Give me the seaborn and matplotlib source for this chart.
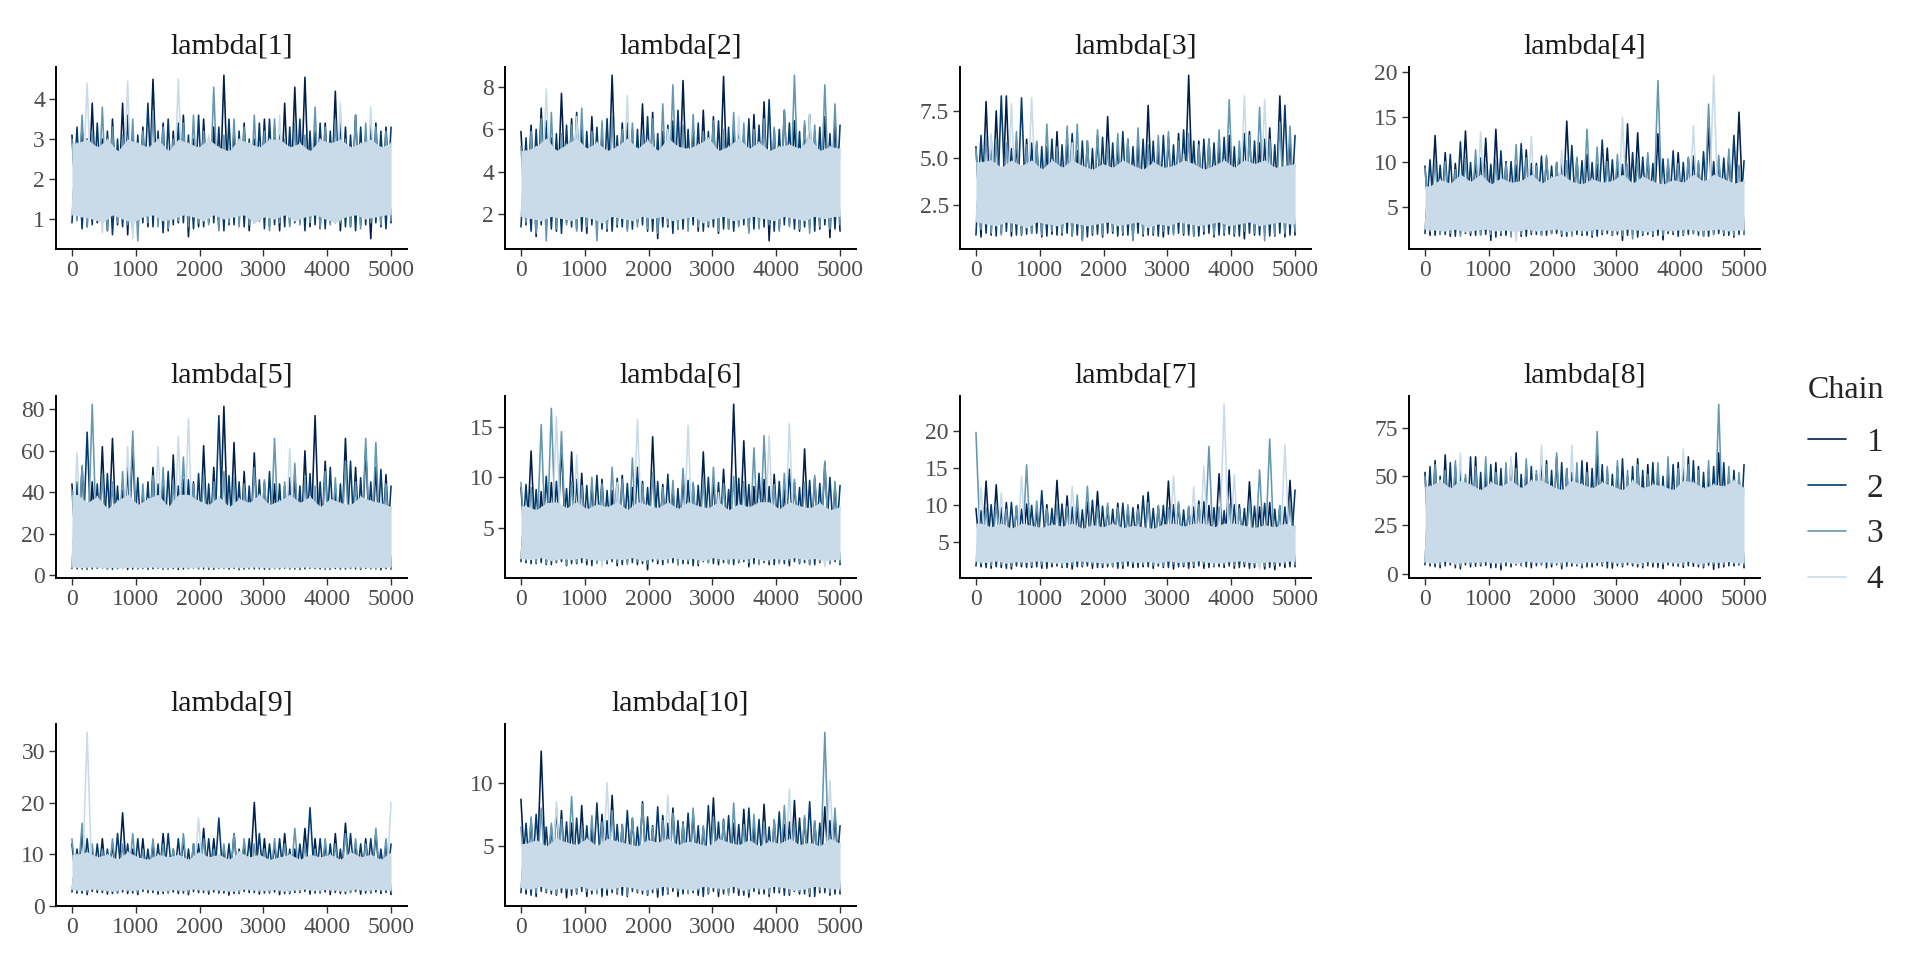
import numpy as np
import pandas as pd
import matplotlib
matplotlib.use("Agg")
import matplotlib.pyplot as plt
from matplotlib.lines import Line2D
import seaborn as sns

# ---------------- data ----------------
params = ["lambda[1]", "lambda[2]", "lambda[3]", "lambda[4]", "lambda[5]",
          "lambda[6]", "lambda[7]", "lambda[8]", "lambda[9]", "lambda[10]"]
chains = ["1", "2", "3", "4"]
n_iter = 5000
x_ticks = [0, 1000, 2000, 3000, 4000, 5000]
y_ticks = [[1, 2, 3, 4], [2, 4, 6, 8], [2.5, 5.0, 7.5], [5, 10, 15, 20], [0, 20, 40, 60, 80],
           [5, 10, 15], [5, 10, 15, 20], [0, 25, 50, 75], [0, 10, 20, 30], [5, 10]]
y_tick_labels = [["1", "2", "3", "4"], ["2", "4", "6", "8"], ["2.5", "5.0", "7.5"],
                 ["5", "10", "15", "20"], ["0", "20", "40", "60", "80"], ["5", "10", "15"],
                 ["5", "10", "15", "20"], ["0", "25", "50", "75"], ["0", "10", "20", "30"], ["5", "10"]]
# limits of the dense (solid-looking) part of chain 4 per parameter
band_floor = [0.9, 1.6, 1.3, 2.2, 3.5, 1.8, 2.1, 5.0, 2.9, 1.5]
band_cap = [3.0, 5.6, 4.9, 8.6, 39.0, 7.6, 7.5, 48.0, 10.5, 5.6]

# upper excursions (hi) and lower excursions (lo) of each chain, in iteration order
lam1_hi = [[3.1, 3.3, 3.9, 3.0, 3.5, 3.9, 3.2, 3.3, 4.5, 3.4, 3.2, 3.6, 3.0, 3.5, 3.3, 4.6, 3.2, 3.4, 3.0, 3.5, 3.3, 3.9, 4.3, 4.55, 3.2, 3.4, 4.2, 3.3, 3.6, 3.1, 3.4, 3.3],
           [3.3, 3.0, 3.4, 3.2, 3.0, 3.6, 3.1, 3.9, 3.2, 3.5, 3.4, 3.1, 3.6, 3.0, 3.3, 3.5, 3.2, 3.0, 3.4, 3.5, 3.1, 3.3, 3.5, 3.2, 3.4, 3.2, 3.5, 3.1, 3.3, 3.4, 3.2, 3.3],
           [3.0, 3.6, 3.2, 3.8, 3.3, 3.1, 3.5, 3.2, 3.7, 3.3, 3.0, 3.4, 3.6, 3.2, 4.3, 3.1, 3.5, 3.3, 3.6, 3.2, 3.5, 3.0, 3.4, 3.1, 3.8, 3.3, 3.5, 3.0, 3.6, 3.4, 3.3, 3.2],
           [2.9, 4.4, 2.8, 3.0, 2.7, 4.45, 2.9, 2.8, 3.0, 2.7, 4.5, 2.9, 2.8, 3.1, 2.8, 2.7, 3.0, 2.9, 2.8, 3.0, 3.6, 2.8, 2.9, 2.7, 3.0, 2.9, 3.9, 2.8, 2.9, 3.8, 2.8, 2.9]]
lam1_lo = [[1.0, 0.8, 0.9, 0.7, 0.85, 0.6, 0.9, 0.8, 0.95, 0.7, 0.9, 0.55, 0.8, 0.9, 0.75, 0.85, 0.9, 0.7, 0.95, 0.8, 0.7, 0.85, 0.9, 0.8, 0.75, 0.9, 0.7, 0.8, 0.85, 0.5, 0.8, 0.9],
           [0.9, 0.75, 0.85, 0.9, 0.6, 0.8, 0.7, 0.9, 0.8, 0.65, 0.85, 0.9, 0.75, 0.8, 0.9, 0.7, 0.85, 0.8, 0.9, 0.75, 0.85, 0.8, 0.9, 0.7, 0.85, 0.75, 0.9, 0.8, 0.7, 0.85, 0.9, 0.75],
           [0.95, 0.8, 1.0, 0.7, 0.9, 0.85, 0.45, 0.9, 0.8, 0.75, 0.95, 0.8, 0.9, 0.85, 0.7, 0.9, 0.8, 0.85, 0.95, 0.7, 0.9, 0.8, 0.85, 0.9, 0.75, 0.85, 0.9, 0.8, 0.75, 0.9, 0.85, 0.95],
           [1.1, 1.05, 1.0, 0.65, 1.1, 1.0, 0.5, 1.05, 1.1, 0.95, 1.0, 1.1, 1.05, 0.95, 1.1, 1.0, 1.05, 1.1, 0.9, 1.05, 1.0, 1.1, 0.95, 1.05, 1.1, 1.0, 0.9, 1.05, 1.1, 1.0, 1.05, 1.1]]

lam2_hi = [[5.9, 6.2, 7.0, 5.6, 7.7, 6.5, 6.0, 6.6, 5.8, 8.55, 6.3, 6.0, 7.2, 6.8, 5.9, 6.4, 8.3, 6.1, 6.9, 6.6, 8.5, 6.2, 5.8, 6.7, 7.3, 6.0, 6.9, 6.4, 6.2, 5.9, 6.6, 6.3],
           [5.6, 6.0, 6.4, 5.8, 6.2, 6.8, 5.9, 6.1, 6.5, 5.7, 6.3, 6.0, 6.6, 5.8, 6.2, 6.9, 6.0, 6.3, 5.9, 6.4, 6.1, 5.8, 6.5, 6.2, 7.4, 6.0, 6.3, 5.9, 6.7, 6.1, 5.8, 6.2],
           [5.2, 5.9, 6.5, 6.8, 5.8, 6.2, 7.0, 5.9, 6.4, 6.6, 6.0, 6.3, 5.8, 6.5, 7.2, 8.1, 6.2, 6.7, 5.9, 6.4, 6.0, 6.8, 6.3, 6.0, 6.5, 6.1, 6.9, 8.55, 6.4, 6.2, 8.1, 7.2],
           [5.0, 5.2, 7.9, 5.0, 5.3, 6.6, 5.1, 5.4, 5.0, 5.2, 7.6, 5.1, 5.5, 5.0, 6.0, 5.2, 5.1, 5.3, 5.6, 5.0, 5.2, 6.6, 5.1, 5.4, 5.0, 5.2, 5.3, 5.1, 6.7, 5.0, 5.2, 5.1]]
lam2_lo = [[1.5, 0.95, 1.4, 1.2, 1.6, 1.3, 1.1, 1.5, 1.2, 1.4, 1.3, 1.6, 1.2, 0.85, 1.4, 1.3, 1.5, 1.2, 1.4, 1.1, 1.3, 1.5, 1.2, 1.4, 0.75, 1.3, 1.5, 1.2, 1.4, 1.3, 0.9, 1.2],
           [1.4, 1.2, 1.5, 1.3, 1.1, 1.4, 1.2, 1.5, 1.3, 1.2, 1.4, 1.3, 1.5, 1.2, 1.4, 1.1, 1.3, 1.5, 1.2, 1.4, 1.3, 1.2, 1.5, 1.3, 1.4, 1.2, 1.5, 1.3, 1.4, 1.2, 1.5, 1.3],
           [1.6, 1.1, 0.75, 1.3, 1.5, 1.2, 1.4, 0.75, 1.3, 1.5, 1.2, 1.4, 1.3, 1.1, 1.5, 1.3, 1.2, 1.4, 1.5, 1.2, 1.3, 1.4, 1.1, 1.3, 1.5, 1.2, 1.4, 1.3, 1.1, 1.4, 1.3, 1.5],
           [1.9, 1.8, 1.7, 1.9, 1.8, 1.7, 1.9, 1.8, 1.6, 1.9, 1.8, 1.7, 1.9, 1.8, 1.9, 1.7, 1.8, 1.9, 1.6, 1.8, 1.9, 1.7, 1.8, 1.9, 1.8, 1.7, 1.9, 1.8, 1.7, 1.9, 1.8, 1.9]]

lam3_hi = [[5.6, 8.0, 7.5, 8.3, 5.9, 6.0, 5.8, 5.6, 6.4, 6.0, 5.4, 5.9, 6.2, 7.2, 5.7, 6.0, 5.8, 7.8, 5.6, 6.1, 6.3, 9.4, 5.9, 6.0, 5.7, 6.2, 5.5, 6.4, 5.8, 6.6, 8.3, 6.0],
           [6.2, 6.0, 8.3, 5.5, 8.2, 5.8, 5.6, 6.0, 5.7, 6.3, 5.9, 5.5, 6.1, 5.8, 6.4, 5.6, 6.0, 5.9, 6.2, 5.7, 6.5, 5.9, 6.0, 5.8, 6.1, 5.6, 6.3, 5.9, 6.0, 5.7, 7.8, 6.2],
           [5.5, 6.2, 6.0, 5.8, 6.4, 5.7, 5.9, 6.8, 5.6, 6.7, 6.8, 5.9, 6.5, 5.8, 6.3, 6.0, 6.6, 5.7, 6.2, 6.4, 5.9, 6.3, 5.7, 6.0, 6.5, 8.1, 5.9, 6.2, 7.7, 6.0, 6.9, 6.7],
           [4.8, 6.3, 4.5, 7.9, 4.6, 8.2, 4.4, 4.9, 4.5, 5.8, 4.6, 4.4, 4.7, 4.5, 4.9, 4.6, 4.4, 4.8, 4.5, 4.6, 5.2, 4.7, 4.4, 4.6, 4.9, 4.5, 8.3, 4.7, 8.1, 4.5, 4.6, 4.7]]
lam3_lo = [[0.8, 0.9, 1.0, 0.85, 0.9, 1.0, 0.8, 0.95, 0.9, 0.85, 0.65, 0.9, 0.8, 1.0, 0.9, 0.65, 0.85, 0.9, 0.8, 1.0, 0.9, 0.85, 0.95, 0.8, 0.9, 0.85, 0.7, 0.9, 1.0, 0.85, 0.8, 0.9],
           [0.9, 1.0, 0.85, 1.1, 0.9, 0.95, 1.0, 0.85, 0.9, 1.0, 0.9, 0.8, 0.95, 1.0, 0.85, 0.9, 1.0, 0.9, 0.85, 0.95, 1.0, 0.9, 0.85, 1.0, 0.9, 0.95, 0.85, 1.0, 0.9, 0.85, 1.0, 0.9],
           [1.2, 1.0, 0.9, 1.1, 0.95, 1.0, 0.9, 1.1, 1.0, 0.85, 0.6, 1.0, 0.9, 1.1, 1.0, 0.6, 0.95, 1.0, 1.1, 0.9, 1.0, 0.85, 1.1, 0.9, 1.0, 0.95, 1.1, 1.0, 0.6, 0.9, 1.0, 1.1],
           [1.6, 1.5, 1.4, 1.6, 1.5, 1.3, 1.6, 1.5, 1.4, 1.6, 1.5, 1.4, 1.5, 1.6, 1.4, 1.5, 1.6, 1.3, 1.5, 1.4, 1.6, 1.5, 1.4, 1.5, 1.6, 1.4, 1.5, 1.6, 1.4, 1.5, 1.6, 1.5]]

lam4_hi = [[9.5, 12.9, 11.0, 9.8, 13.4, 10.2, 12.6, 13.6, 10.0, 9.6, 11.3, 9.8, 10.4, 9.9, 14.5, 10.3, 10.8, 9.7, 11.5, 10.0, 14.2, 13.2, 10.5, 13.1, 10.0, 11.0, 10.4, 9.8, 13.8, 10.2, 10.6, 15.5],
           [10.2, 9.6, 10.8, 12.2, 9.9, 10.4, 9.7, 11.2, 10.0, 12.0, 9.8, 10.6, 9.5, 10.3, 11.8, 10.1, 9.9, 12.4, 10.2, 9.7, 11.0, 10.5, 9.8, 10.3, 11.2, 9.9, 10.6, 11.1, 10.0, 10.4, 12.9, 10.1],
           [9.3, 10.2, 10.0, 9.1, 10.5, 11.3, 9.6, 10.2, 9.8, 11.9, 10.4, 9.5, 10.7, 9.9, 10.1, 10.5, 13.6, 11.6, 10.0, 10.8, 9.7, 10.4, 11.0, 19.0, 10.3, 9.8, 10.5, 10.1, 16.4, 10.7, 11.4, 9.6],
           [7.3, 8.0, 7.6, 8.6, 7.8, 13.3, 7.5, 8.2, 7.7, 7.9, 12.8, 7.6, 8.3, 11.3, 7.8, 7.5, 8.1, 7.7, 7.9, 14.9, 7.6, 8.4, 7.8, 7.5, 8.0, 7.7, 14.0, 7.8, 19.6, 8.1, 7.6, 7.9]]
lam4_lo = [[1.8, 1.9, 1.7, 2.0, 1.8, 1.9, 1.25, 1.8, 2.0, 1.7, 1.9, 1.8, 2.0, 1.7, 1.9, 1.8, 1.6, 1.9, 1.8, 1.25, 1.9, 1.8, 1.7, 1.3, 1.9, 1.8, 2.0, 1.7, 1.9, 1.8, 1.6, 1.9],
           [2.0, 1.8, 1.9, 1.7, 2.0, 1.8, 1.9, 1.6, 1.8, 2.0, 1.7, 1.9, 1.8, 2.0, 1.7, 1.9, 1.8, 1.7, 2.0, 1.9, 1.8, 1.6, 1.9, 1.8, 2.0, 1.7, 1.9, 1.8, 1.7, 2.0, 1.8, 1.9],
           [2.2, 1.9, 2.0, 1.7, 2.1, 1.8, 1.9, 2.0, 1.6, 1.9, 2.1, 1.8, 2.0, 1.9, 1.7, 2.0, 1.8, 2.1, 1.9, 1.8, 1.4, 2.0, 1.9, 1.8, 2.1, 1.9, 2.0, 1.7, 1.9, 2.0, 1.8, 1.9],
           [2.5, 2.4, 2.3, 2.5, 2.2, 2.4, 2.5, 2.3, 2.4, 1.2, 2.5, 2.3, 2.4, 2.5, 2.2, 2.4, 2.3, 2.5, 2.4, 2.3, 2.5, 2.4, 2.2, 2.5, 2.3, 2.4, 2.5, 2.3, 2.4, 2.5, 2.3, 2.4]]

lam5_hi = [[44, 52, 45, 62, 66, 41, 62, 40, 52, 43, 58, 46, 45, 62.5, 52, 81.5, 64, 50, 59, 45, 44, 43, 48, 60, 77, 55, 42, 66, 52, 61, 52, 48.5],
           [45, 69, 44, 49, 43, 52, 47, 45, 44, 50, 43, 46, 49, 44, 77, 48, 45, 43, 46, 50, 44, 47, 43, 49, 45, 52, 44, 55, 47, 45, 51, 43],
           [41, 53, 82.5, 49, 45, 50, 69.5, 44, 48, 52, 46, 57, 44, 49, 45, 50, 47, 44, 52, 46, 66, 45, 54, 48, 43, 50, 47, 55, 45, 66, 64, 44],
           [59, 35, 38, 32, 36, 62, 34, 37, 62, 33, 67, 75.5, 36, 34, 38, 33, 37, 35, 39, 34, 36, 61, 35, 38, 33, 37, 35, 34, 38, 36, 35, 33]]
lam5_lo = [[3.0, 2.8, 3.2, 2.9, 3.1, 2.7, 3.0, 2.8, 3.3, 2.9, 2.7, 3.1, 3.0, 2.8, 3.2, 2.9, 2.6, 3.0, 3.1, 2.8, 3.0, 2.9, 2.7, 3.2, 3.0, 2.8, 2.9, 3.1, 2.7, 3.0, 2.55, 2.9],
           [3.2, 2.9, 3.0, 3.3, 2.8, 3.1, 2.9, 3.2, 3.0, 2.8, 3.1, 2.9, 3.3, 3.0, 2.8, 3.1, 3.2, 2.9, 3.0, 2.8, 3.1, 3.3, 2.9, 3.0, 3.2, 2.8, 3.1, 2.9, 3.0, 3.2, 2.9, 3.1],
           [3.5, 3.2, 3.4, 3.0, 3.3, 3.6, 3.1, 3.4, 3.2, 3.0, 3.5, 3.3, 3.1, 3.4, 3.2, 3.6, 3.0, 3.3, 3.5, 3.1, 3.4, 3.2, 3.0, 3.3, 3.5, 3.1, 3.4, 3.2, 3.0, 3.3, 3.5, 3.2],
           [3.8, 3.6, 3.9, 3.5, 3.7, 2.6, 3.8, 3.6, 3.9, 3.5, 3.7, 3.8, 3.6, 3.9, 3.7, 3.5, 3.8, 3.6, 3.9, 3.7, 3.5, 3.8, 3.6, 3.9, 3.7, 3.5, 3.8, 3.6, 3.9, 3.7, 3.5, 3.8]]

lam6_hi = [[9.0, 12.6, 8.6, 9.5, 13.1, 12.5, 10.4, 9.2, 9.8, 8.7, 10.2, 9.0, 9.6, 14.0, 9.3, 8.9, 10.0, 9.4, 12.5, 9.7, 10.8, 17.2, 13.6, 9.1, 9.8, 10.3, 8.8, 9.5, 12.8, 9.9, 11.4, 9.2],
           [9.3, 8.8, 10.1, 9.6, 8.9, 9.8, 9.2, 10.2, 8.7, 9.9, 9.4, 11.0, 9.0, 9.6, 10.3, 8.9, 9.7, 9.2, 10.0, 9.5, 8.8, 9.9, 9.3, 10.4, 9.1, 9.6, 10.8, 9.0, 9.7, 9.4, 10.0, 9.2],
           [9.5, 9.0, 15.2, 16.8, 14.5, 9.6, 9.2, 10.0, 9.4, 11.0, 9.8, 11.9, 9.3, 10.5, 9.0, 9.7, 10.9, 9.5, 9.9, 11.0, 9.4, 10.1, 9.6, 12.9, 14.1, 9.3, 10.4, 9.8, 9.5, 10.2, 11.6, 9.6],
           [7.2, 6.8, 7.5, 16.0, 7.0, 12.2, 6.9, 7.4, 7.1, 9.5, 6.8, 15.7, 7.3, 7.0, 7.6, 6.9, 15.1, 7.2, 7.0, 8.5, 6.8, 7.4, 7.1, 7.8, 14.1, 6.9, 15.3, 7.2, 7.0, 7.5, 6.8, 7.1]]
lam6_lo = [[1.6, 1.5, 1.4, 1.6, 1.3, 1.5, 1.4, 1.6, 1.5, 1.3, 1.6, 1.4, 0.9, 1.5, 1.6, 1.4, 1.5, 1.3, 1.6, 1.4, 1.5, 1.6, 1.2, 1.5, 1.4, 1.6, 1.3, 1.5, 1.4, 1.6, 1.5, 1.4],
           [1.7, 1.5, 1.6, 1.4, 1.7, 1.5, 1.6, 1.3, 1.5, 1.7, 1.4, 1.6, 1.5, 1.7, 1.4, 1.6, 1.5, 1.3, 1.7, 1.5, 1.6, 1.4, 1.7, 1.5, 1.6, 1.4, 1.5, 1.7, 1.6, 1.4, 1.5, 1.7],
           [1.8, 1.6, 1.5, 1.7, 1.4, 1.6, 1.8, 1.5, 1.7, 1.6, 1.4, 1.7, 1.5, 1.8, 1.6, 1.4, 1.7, 1.5, 1.6, 1.8, 1.5, 1.7, 1.6, 1.4, 1.7, 1.5, 1.8, 1.6, 1.4, 1.7, 1.5, 1.6],
           [2.0, 1.9, 2.1, 1.8, 2.0, 1.9, 2.1, 1.9, 1.2, 2.0, 1.9, 2.1, 1.8, 2.0, 1.9, 2.1, 1.9, 2.0, 1.8, 2.1, 1.9, 2.0, 1.9, 2.1, 1.8, 2.0, 1.9, 2.1, 1.9, 2.0, 1.2, 1.9]]

lam7_hi = [[9.5, 13.2, 12.7, 10.3, 9.8, 10.1, 9.4, 10.0, 13.3, 11.2, 9.6, 10.4, 11.8, 9.7, 10.2, 9.5, 10.0, 11.7, 9.8, 13.2, 10.1, 9.6, 10.5, 9.9, 14.2, 14.7, 10.0, 13.1, 9.7, 10.3, 9.8, 13.3],
           [9.2, 10.0, 9.6, 10.3, 9.4, 9.9, 11.9, 9.5, 10.1, 9.7, 9.3, 10.6, 9.8, 9.4, 10.2, 9.6, 11.2, 9.5, 9.9, 10.0, 9.3, 9.7, 10.4, 9.6, 9.2, 10.0, 9.5, 9.8, 10.2, 9.4, 9.7, 12.0],
           [19.8, 9.6, 10.2, 9.4, 9.9, 15.4, 10.5, 9.5, 10.1, 9.8, 11.3, 12.5, 9.7, 10.2, 9.6, 10.0, 9.4, 10.3, 9.9, 9.6, 10.4, 9.8, 10.0, 17.9, 9.7, 10.1, 9.5, 10.6, 14.7, 18.9, 9.9, 10.2],
           [12.3, 7.0, 11.6, 6.8, 13.8, 7.2, 6.9, 7.4, 7.1, 12.5, 6.8, 7.3, 7.0, 7.5, 6.9, 7.2, 7.0, 6.8, 7.4, 13.9, 7.1, 12.4, 15.2, 7.0, 23.6, 14.1, 7.2, 6.9, 7.3, 7.0, 18.1, 7.1]]
lam7_lo = [[1.6, 1.4, 1.5, 1.3, 1.6, 1.5, 1.4, 1.6, 1.5, 1.3, 1.6, 1.4, 1.5, 1.6, 1.4, 1.5, 1.6, 1.4, 1.5, 1.3, 1.6, 1.5, 1.4, 1.6, 1.5, 1.4, 1.6, 1.5, 1.3, 1.2, 1.5, 1.6],
           [1.7, 1.5, 1.6, 1.4, 1.7, 1.5, 1.6, 1.4, 1.7, 1.5, 1.6, 1.7, 1.5, 1.6, 1.4, 1.7, 1.5, 1.6, 1.7, 1.5, 1.6, 1.4, 1.7, 1.5, 1.6, 1.7, 1.5, 1.4, 1.6, 1.5, 1.7, 1.6],
           [2.0, 1.8, 1.9, 1.7, 2.0, 1.8, 1.9, 2.0, 1.7, 1.9, 1.8, 2.0, 1.9, 1.7, 1.8, 2.0, 1.9, 1.8, 1.7, 2.0, 1.9, 1.8, 2.0, 1.7, 1.9, 1.8, 2.0, 1.9, 1.7, 1.8, 2.0, 1.9],
           [2.3, 2.2, 2.4, 2.1, 2.3, 2.2, 2.4, 2.3, 2.1, 2.2, 2.4, 2.3, 2.2, 2.1, 2.3, 2.4, 2.2, 2.3, 2.1, 2.4, 2.2, 2.3, 2.4, 2.2, 2.1, 2.3, 2.4, 2.2, 1.3, 2.3, 2.2, 2.4]]

lam8_hi = [[52, 58, 61, 55, 49, 60, 53, 57, 50, 62, 55, 51, 58, 60, 54, 52, 57, 61, 53, 55, 50, 59, 56, 54, 51, 57, 60, 55, 53, 62, 52, 50],
           [55, 50, 57, 53, 60, 52, 56, 54, 58, 51, 55, 60, 53, 57, 52, 58, 54, 56, 51, 59, 55, 53, 57, 50, 56, 54, 58, 52, 55, 57, 53, 56],
           [50, 56, 53, 58, 51, 55, 60, 52, 57, 54, 59, 53, 56, 62, 54, 57, 52, 73, 55, 58, 53, 56, 51, 57, 60, 54, 56, 53, 58, 87, 55, 52],
           [45, 48, 44, 62, 46, 43, 47, 45, 60, 44, 48, 66, 45, 43, 66, 46, 44, 47, 45, 43, 48, 44, 46, 45, 43, 64, 47, 44, 46, 45, 48, 44]]
lam8_lo = [[4, 3, 4.5, 2.5, 3.5, 4, 3, 2, 3.5, 4, 3, 4.5, 3.5, 2.5, 4, 3, 3.5, 4, 2.8, 3.5, 4, 3, 3.5, 2.6, 4, 3.2, 3.8, 3, 2.2, 3.5, 4, 3],
           [4.5, 3.5, 4, 3, 4.5, 3.8, 4.2, 3.2, 4, 4.5, 3.5, 4, 3, 4.5, 3.8, 4, 3.5, 4.2, 3, 4, 4.5, 3.5, 4, 3.2, 4.5, 3.8, 4, 3.5, 4.2, 3, 4, 4.5],
           [5, 4.5, 5.5, 4, 5, 4.8, 5.2, 4.5, 5, 4.2, 5.5, 4.8, 5, 4.5, 5.2, 4, 5, 4.8, 5.5, 4.5, 5, 4.2, 5.2, 4.8, 5, 4.5, 5.5, 4, 5, 4.8, 5.2, 4.5],
           [6, 5.5, 6.5, 5, 6, 5.8, 6.2, 5.5, 6, 5.2, 6.5, 5.8, 6, 5.5, 6.2, 5, 6, 5.8, 6.5, 5.5, 6, 5.2, 6.2, 5.8, 6, 5.5, 6.5, 5, 6, 5.8, 6.2, 5.5]]

lam9_hi = [[12, 14, 11, 13, 12, 18, 11, 13, 12, 14, 11, 13, 12, 15, 13, 11, 14, 12, 20, 13, 12, 14, 11, 15, 13, 12, 14, 16, 12, 13, 14, 12],
           [11, 13, 12, 11, 14, 12, 13, 11, 12, 14, 13, 11, 12, 13, 17, 12, 11, 13, 14, 12, 13, 11, 12, 19, 13, 12, 11, 14, 12, 13, 11, 12],
           [13, 16, 12, 11, 13, 12, 14, 11, 13, 12, 11, 14, 12, 13, 11, 12, 14, 13, 12, 11, 13, 12, 15, 12, 11, 13, 12, 14, 13, 12, 15, 13],
           [10, 33.6, 9.5, 10, 9, 10.5, 9.5, 9, 10, 9.5, 10, 9, 17, 9.5, 10, 9, 10.5, 9.5, 10, 9, 9.5, 10, 9, 10, 9.5, 10, 9, 10.5, 9.5, 10, 9, 20]]
lam9_lo = [[2.5, 2.2, 2.6, 2.3, 2.5, 2.4, 2.2, 2.6, 2.3, 2.5, 2.4, 2.2, 2.6, 2.3, 2.5, 2.1, 2.4, 2.6, 2.3, 2.5, 2.2, 2.4, 2.6, 2.3, 2.5, 2.2, 2.4, 2.6, 2.3, 2.5, 2.4, 2.2],
           [2.7, 2.5, 2.8, 2.6, 2.4, 2.7, 2.5, 2.8, 2.6, 2.4, 2.7, 2.5, 2.8, 2.6, 2.7, 2.5, 2.4, 2.8, 2.6, 2.5, 2.7, 2.4, 2.6, 2.8, 2.5, 2.7, 2.6, 2.4, 2.8, 2.5, 2.7, 2.6],
           [2.9, 2.7, 3.0, 2.8, 2.6, 2.9, 2.7, 3.0, 2.8, 2.6, 2.9, 2.7, 3.0, 2.8, 2.9, 2.7, 2.6, 3.0, 2.8, 2.7, 2.9, 2.6, 2.8, 3.0, 2.7, 2.9, 2.8, 2.6, 3.0, 2.7, 2.9, 2.8],
           [3.2, 3.0, 3.3, 3.1, 2.9, 3.2, 3.0, 3.3, 3.1, 2.9, 3.2, 3.0, 3.3, 3.1, 3.2, 3.0, 2.9, 3.3, 3.1, 3.0, 3.2, 2.9, 3.1, 3.3, 3.0, 3.2, 3.1, 2.9, 3.3, 3.0, 3.2, 3.1]]

lam10_hi = [[8.7, 7.0, 12.5, 6.5, 7.8, 6.8, 8.2, 6.4, 7.5, 9.0, 6.7, 7.2, 8.5, 6.6, 7.4, 8.0, 6.9, 7.6, 6.5, 8.8, 7.1, 6.8, 7.9, 6.6, 8.3, 7.0, 6.7, 8.6, 7.2, 6.9, 8.1, 7.3],
            [6.8, 7.5, 6.5, 8.0, 6.9, 7.2, 6.6, 8.4, 7.0, 6.7, 7.8, 6.5, 7.3, 8.1, 6.8, 7.0, 7.6, 6.6, 8.2, 6.9, 7.4, 6.7, 8.0, 7.1, 6.5, 7.7, 6.9, 7.2, 8.5, 6.8, 7.0, 6.6],
            [6.5, 7.3, 8.0, 6.8, 7.1, 8.9, 6.6, 7.4, 6.9, 7.8, 6.7, 7.2, 8.3, 6.5, 7.0, 7.6, 6.8, 8.0, 6.6, 7.3, 7.0, 8.4, 6.7, 7.5, 6.9, 7.1, 8.2, 6.8, 7.4, 7.0, 14.0, 8.0],
            [5.2, 5.5, 5.0, 8.5, 5.3, 5.1, 5.6, 5.0, 10.0, 5.4, 5.2, 5.0, 5.5, 5.3, 9.0, 5.1, 5.4, 5.2, 5.0, 5.6, 5.3, 5.1, 5.5, 5.0, 5.4, 5.2, 9.5, 5.1, 5.3, 5.0, 10.2, 5.2]]
lam10_lo = [[1.2, 1.0, 1.3, 1.1, 0.9, 1.2, 1.0, 1.3, 1.1, 1.2, 1.0, 1.3, 1.1, 0.95, 1.2, 1.0, 1.3, 1.1, 1.2, 1.0, 1.3, 1.1, 0.95, 1.2, 1.0, 1.3, 1.1, 1.2, 1.0, 1.3, 1.1, 1.2],
            [1.3, 1.1, 1.4, 1.2, 1.3, 1.1, 1.4, 1.2, 1.0, 1.3, 1.1, 1.4, 1.2, 1.3, 1.1, 1.4, 1.2, 1.3, 1.0, 1.4, 1.2, 1.3, 1.1, 1.4, 1.2, 1.3, 1.1, 1.4, 1.2, 1.0, 1.3, 1.2],
            [1.5, 1.3, 1.4, 1.2, 1.5, 1.3, 1.4, 1.2, 1.5, 1.3, 1.1, 1.4, 1.2, 1.5, 1.3, 1.4, 1.2, 1.5, 1.3, 1.4, 1.1, 1.5, 1.3, 1.4, 1.2, 1.5, 1.3, 1.4, 1.2, 1.5, 1.3, 1.4],
            [1.7, 1.6, 1.8, 1.5, 1.7, 1.6, 1.8, 1.5, 1.7, 1.6, 1.8, 1.7, 1.5, 1.6, 1.8, 1.7, 1.6, 1.5, 1.8, 1.7, 1.6, 1.8, 1.5, 1.7, 1.6, 1.8, 1.7, 1.5, 1.6, 1.8, 1.7, 1.6]]

all_hi = [lam1_hi, lam2_hi, lam3_hi, lam4_hi, lam5_hi, lam6_hi, lam7_hi, lam8_hi, lam9_hi, lam10_hi]
all_lo = [lam1_lo, lam2_lo, lam3_lo, lam4_lo, lam5_lo, lam6_lo, lam7_lo, lam8_lo, lam9_lo, lam10_lo]

chain_colors = ["#011f4b", "#03396c", "#6497b1", "#c9dbe8"]

# ---------------- style ----------------
sns.set_theme(style="ticks")
plt.rcParams["font.family"] = ["Liberation Serif", "DejaVu Serif"]

W, H = 1920, 960
fig = plt.figure(figsize=(W / 100, H / 100), dpi=100)
fig.patch.set_facecolor("white")

col_left = [56, 505, 960, 1409]
row_top = [67, 396, 724]
pw, ph = 351, 182


def build_trace(hi, lo, hi_first):
    pairs = zip(hi, lo) if hi_first else zip(lo, hi)
    return [v for p in pairs for v in p]


for p, name in enumerate(params):
    r, c = divmod(p, 4)
    ax = fig.add_axes([col_left[c] / W, 1 - (row_top[r] + ph) / H, pw / W, ph / H])
    vals = []
    for ci, ch in enumerate(chains):
        hi_first = (ci % 2 == 0)
        y = build_trace(all_hi[p][ci], all_lo[p][ci], hi_first)
        it = np.linspace(1, n_iter, len(y))
        vals.extend(y)
        df = pd.DataFrame({"iteration": it, "value": y})
        if ci == 3:
            # solid body of the last chain: between its troughs and peaks,
            # limited to the dense part of its range
            x_hi = it[0::2] if hi_first else it[1::2]
            x_lo = it[1::2] if hi_first else it[0::2]
            top = np.interp(it, x_hi, np.minimum(all_hi[p][ci], band_cap[p]))
            bot = np.interp(it, x_lo, np.maximum(all_lo[p][ci], band_floor[p]))
            ax.fill_between(it, bot, top, color=chain_colors[3], lw=0, zorder=2.3)
        sns.lineplot(data=df, x="iteration", y="value", ax=ax, color=chain_colors[ci],
                     lw=1.15, estimator=None, sort=False, zorder=2.0 + 0.1 * ci)
    lo_v, hi_v = min(vals), max(vals)
    rng = hi_v - lo_v
    ax.set_ylim(lo_v - 0.05 * rng, hi_v + 0.05 * rng)
    ax.set_xlim(1 - 0.05 * (n_iter - 1), n_iter + 0.05 * (n_iter - 1))
    ax.set_xticks(x_ticks)
    ax.set_xticklabels([str(t) for t in x_ticks])
    ax.set_yticks(y_ticks[p])
    ax.set_yticklabels(y_tick_labels[p])
    ax.set_xlabel("")
    ax.set_ylabel("")
    ax.set_title(name, fontsize=21.5, pad=10, color="#1a1a1a")
    for s in ["top", "right"]:
        ax.spines[s].set_visible(False)
    for s in ["left", "bottom"]:
        ax.spines[s].set_color("black")
        ax.spines[s].set_linewidth(1.4)
    ax.tick_params(axis="both", length=5, width=1.0, color="#333333",
                   labelsize=17, labelcolor="#4d4d4d", pad=3)
    ax.set_facecolor("white")

handles = [Line2D([0], [0], color=chain_colors[i], lw=1.2) for i in range(4)]
leg = fig.legend(handles, chains, title="Chain", loc="upper left",
                 bbox_to_anchor=(1808 / W, 1 - 376 / H), frameon=False,
                 fontsize=24, title_fontsize=23, handlelength=1.15, handletextpad=0.6,
                 labelspacing=0.46, borderaxespad=0, borderpad=0)
leg._legend_box.align = "left"
leg._legend_box.sep = 16

fig.savefig("out.png", dpi=100, facecolor="white")
